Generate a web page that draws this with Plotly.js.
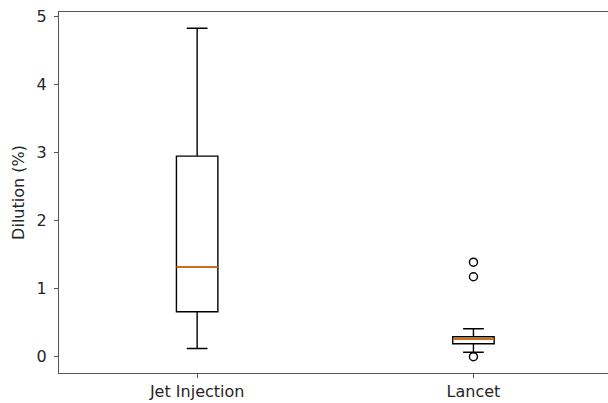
<!DOCTYPE html>
<html>
<head>
<meta charset="utf-8">
<script src="https://cdn.plot.ly/plotly-3.0.1.min.js"></script>
<style>html,body{margin:0;padding:0;background:#fff;}#chart{width:608px;height:403px;}</style>
</head>
<body>
<div id="chart"></div>
<script>
const categories = ["Jet Injection", "Lancet"];
const positions = [1, 2];
const q1 = [0.65, 0.18];
const medians = [1.31, 0.25];
const q3 = [2.94, 0.284];
const lowerWhisker = [0.11, 0.055];
const upperWhisker = [4.82, 0.40];
const outliers = [[], [1.38, 1.165, -0.01]];
const yTicks = [0, 1, 2, 3, 4, 5];

const boxWidth = 0.15;
const traces = [];
categories.forEach((c, i) => {
  traces.push({
    type: 'box',
    x: [positions[i]],
    q1: [q1[i]], median: [medians[i]], q3: [q3[i]],
    lowerfence: [lowerWhisker[i]], upperfence: [upperWhisker[i]],
    width: boxWidth,
    whiskerwidth: 0.5,
    fillcolor: 'rgba(0,0,0,0)',
    line: {color: '#000', width: 1.4},
    boxpoints: false,
    hoverinfo: 'skip',
    showlegend: false
  });
});
categories.forEach((c, i) => {
  traces.push({
    type: 'scatter', mode: 'lines',
    x: [positions[i] - boxWidth / 2, positions[i] + boxWidth / 2],
    y: [medians[i], medians[i]],
    line: {color: '#ff7f0e', width: 1.4},
    showlegend: false, hoverinfo: 'skip'
  });
  if (outliers[i].length) {
    traces.push({
      type: 'scatter', mode: 'markers',
      x: outliers[i].map(() => positions[i]),
      y: outliers[i],
      marker: {symbol: 'circle-open', size: 8, color: '#000', line: {width: 1.4, color: '#000'}},
      showlegend: false, hoverinfo: 'skip'
    });
  }
});

const layout = {
  width: 608, height: 403,
  margin: {l: 59, r: 0, t: 12, b: 30},
  paper_bgcolor: '#fff', plot_bgcolor: '#fff',
  font: {family: 'DejaVu Sans', size: 16, color: '#262626'},
  showlegend: false,
  xaxis: {
    type: 'linear',
    range: [0.5, 2.487],
    tickvals: positions, ticktext: categories,
    showgrid: false, zeroline: false,
    showline: true, mirror: true, linecolor: '#555', linewidth: 1,
    ticks: 'outside', ticklen: 4, tickcolor: '#555', tickwidth: 1,
    tickfont: {size: 16, color: '#262626'}
  },
  yaxis: {
    range: [-0.25, 5.06],
    tickvals: yTicks,
    showgrid: false, zeroline: false,
    showline: true, mirror: false, linecolor: '#555', linewidth: 1,
    ticks: 'outside', ticklen: 4, tickcolor: '#555', tickwidth: 1,
    ticklabelstandoff: 4,
    tickfont: {size: 16, color: '#262626'},
    title: {text: 'Dilution (%)', font: {size: 16, color: '#262626'}, standoff: 8}
  }
};
Plotly.newPlot('chart', traces, layout, {displayModeBar: false, staticPlot: true});
</script>
</body>
</html>
